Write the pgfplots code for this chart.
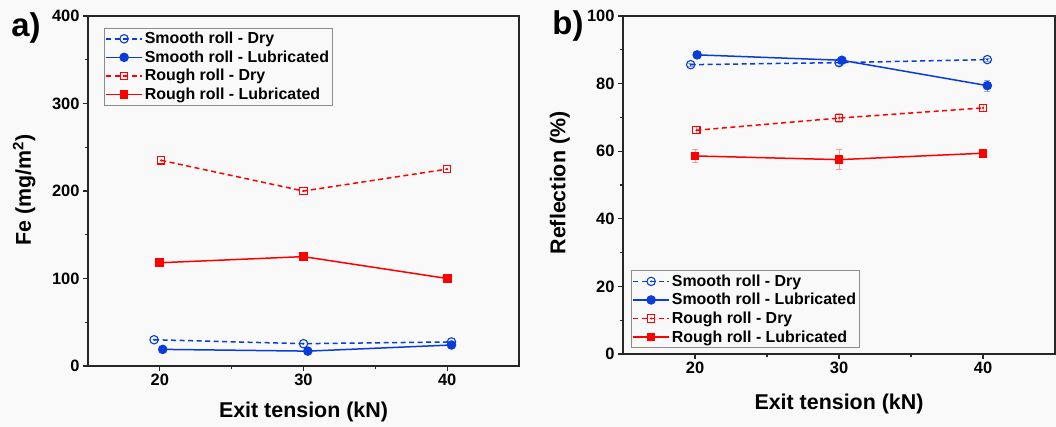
\documentclass[border=0pt]{standalone}
\usepackage{fontspec}
\setmainfont{Liberation Sans}
\usepackage{pgfplots}
\pgfplotsset{compat=1.18}

\definecolor{myblue}{HTML}{0A3CD7}
\definecolor{myred}{HTML}{FF0000}
\definecolor{bg}{HTML}{F9F9F9}

% open marks with a centre dot, as in Origin
\pgfdeclareplotmark{circdot}{%
  \pgfpathcircle{\pgfpointorigin}{\pgfplotmarksize}\pgfusepathqstroke
  \pgfpathcircle{\pgfpointorigin}{0.4bp}\pgfusepathqstroke}
\pgfdeclareplotmark{sqdot}{%
  \pgfpathrectangle{\pgfpoint{-\pgfplotmarksize}{-\pgfplotmarksize}}{\pgfpoint{2\pgfplotmarksize}{2\pgfplotmarksize}}\pgfusepathqstroke
  \pgfpathcircle{\pgfpointorigin}{0.4bp}\pgfusepathqstroke}

\pgfplotsset{
  panel/.style={
    scale only axis,
    xmin=15, xmax=45,
    xtick={20,30,40}, minor xtick={25,35},
    minor y tick num=1,
    tick align=outside, xtick pos=bottom, ytick pos=left,
    axis line style={line width=1.2bp, black!85},
    every tick/.style={line width=1.1bp, black!85},
    major tick length=5bp, minor tick length=3bp,
    ticklabel style={font=\fontsize{16.5}{18}\selectfont\bfseries},
    label style={font=\fontsize{21.5}{24}\selectfont\bfseries},
    /pgf/number format/assume math mode=true,
    legend cell align=left,
    legend style={draw=black!45, line width=0.8bp, fill=bg,
      font=\fontsize{16}{18}\selectfont\bfseries, row sep=1.5bp,
      inner xsep=1bp, inner ysep=2bp},
    legend image post style={line width=1.5bp},
    legend image code/.code={\draw[mark repeat=2,mark phase=2]
      plot coordinates {(0bp,0bp) (18bp,0bp) (36bp,0bp)};},
    error bars/y dir=both, error bars/y explicit,
  },
  sdry/.style={myblue, line width=1.5bp, dash pattern=on 5bp off 3.5bp,
    mark=circdot, mark size=4.2bp, mark options={solid, line width=1.1bp},
    error bars/error bar style={solid, line width=0.8bp, myblue!45},
    error bars/error mark options={rotate=90, mark size=3bp, line width=0.8bp, myblue!45}},
  slub/.style={myblue, line width=1.5bp, solid,
    mark=*, mark size=4bp, mark options={solid},
    error bars/error bar style={solid, line width=0.8bp, myblue!45},
    error bars/error mark options={rotate=90, mark size=3bp, line width=0.8bp, myblue!45}},
  rdry/.style={myred, line width=1.5bp, dash pattern=on 5bp off 3.5bp,
    mark=sqdot, mark size=3.6bp, mark options={solid, line width=1.1bp},
    error bars/error bar style={solid, line width=0.8bp, myred!40},
    error bars/error mark options={rotate=90, mark size=3bp, line width=0.8bp, myred!40}},
  rlub/.style={myred, line width=1.5bp, solid,
    mark=square*, mark size=3.6bp, mark options={solid},
    error bars/error bar style={solid, line width=0.8bp, myred!40},
    error bars/error mark options={rotate=90, mark size=3bp, line width=0.8bp, myred!40}},
}

\begin{document}
\begin{tikzpicture}
\fill[bg] (0bp,0bp) rectangle (1056bp,427bp);
\path[use as bounding box] (0bp,0bp) rectangle (1056bp,427bp);

% a) Fe
\begin{axis}[panel,
    at={(88bp,61bp)}, anchor=south west,
    width=431bp, height=350bp,
    ymin=0, ymax=400, ytick={0,100,200,300,400},
    xlabel={Exit tension (kN)},
    ylabel={Fe (mg/m\textsuperscript{2})},
    xlabel style={at={(axis description cs:0.5,-0.131)}, anchor=center},
    ylabel style={at={(axis description cs:-0.148,0.503)}, anchor=center},
    legend style={at={(0.037,0.966)}, anchor=north west},
]
\addplot[sdry] coordinates {(19.6,30) (30,25.5) (40.3,27.5)};
\addplot[slub] coordinates {(20.2,19) (30.3,17) (40.3,24)};
\addplot[rdry] coordinates {(20.1,235) (30,200) (40,225)};
\addplot[rlub] coordinates {(20,118) (30,125) (40,100)};
\legend{Smooth roll - Dry, Smooth roll - Lubricated, Rough roll - Dry, Rough roll - Lubricated}
\end{axis}

% b) Reflection
\begin{axis}[panel,
    at={(623bp,73bp)}, anchor=south west,
    width=432bp, height=338bp,
    ymin=0, ymax=100, ytick={0,20,40,60,80,100},
    xlabel={Exit tension (kN)},
    ylabel={Reflection (\%)},
    xlabel style={at={(axis description cs:0.5,-0.148)}, anchor=center},
    ylabel style={at={(axis description cs:-0.146,0.506)}, anchor=center},
    legend style={at={(0.0185,0.018)}, anchor=south west},
]
\addplot[sdry] coordinates {(19.7,85.6) +- (0,0.4) (30,86.2) +- (0,0.8) (40.3,87.1) +- (0,0.4)};
\addplot[slub] coordinates {(20.15,88.5) +- (0,1.0) (30.2,86.9) +- (0,0.8) (40.3,79.4) +- (0,1.6)};
\addplot[rdry] coordinates {(20.1,66.2) +- (0,1.0) (30,69.8) +- (0,1.3) (40,72.8) +- (0,1.0)};
\addplot[rlub] coordinates {(20,58.6) +- (0,1.8) (30,57.5) +- (0,3.0) (40,59.4) +- (0,0.5)};
\legend{Smooth roll - Dry, Smooth roll - Lubricated, Rough roll - Dry, Rough roll - Lubricated}
\end{axis}

\node[font=\fontsize{33}{36}\selectfont\bfseries] at (26bp,399bp) {a)};
\node[font=\fontsize{33}{36}\selectfont\bfseries] at (568bp,401bp) {b)};
\end{tikzpicture}
\end{document}
